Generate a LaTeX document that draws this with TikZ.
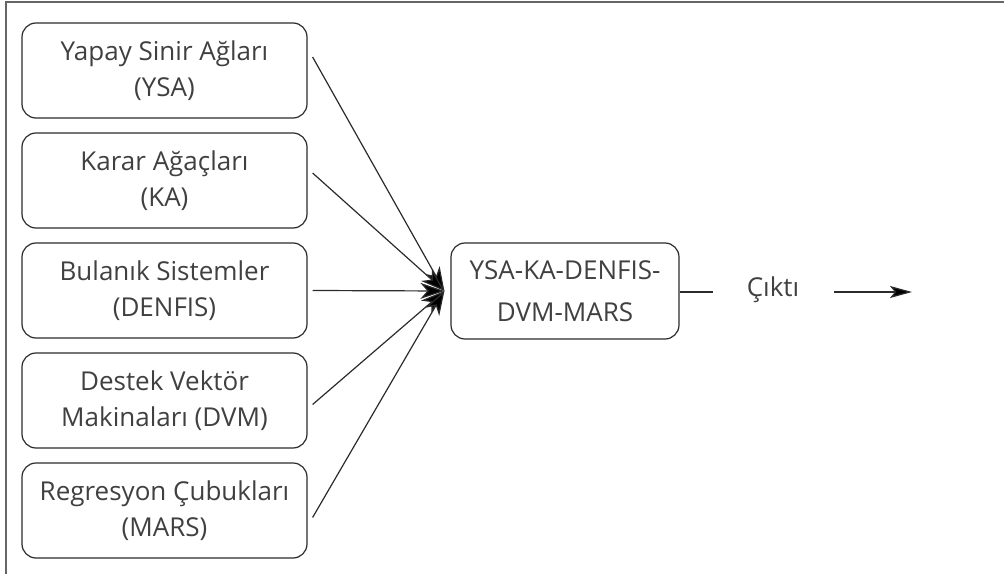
\documentclass[tikz,border=0pt]{standalone}
\usepackage{fontspec}
\setmainfont{Open Sans}
\usetikzlibrary{arrows.meta}
\definecolor{textgray}{HTML}{404040}
\definecolor{linegray}{HTML}{2B2B2B}
\tikzstyle{method} = [rectangle, rounded corners=14pt, minimum width=285pt, minimum height=95pt, align=center, draw=linegray, line width=1.2pt, text=textgray, font=\fontsize{26}{36}\selectfont]
\tikzstyle{hybridbox} = [rectangle, rounded corners=14pt, minimum width=228pt, minimum height=96pt, align=center, draw=linegray, line width=1.2pt, text=textgray, font=\fontsize{26}{42}\selectfont]
\tikzstyle{arrow} = [line width=1.2pt, draw=linegray, -{Stealth[length=24pt,width=16pt,inset=7pt,fill=black]}]

\begin{document}
\begin{tikzpicture}[x=1pt, y=1pt, node distance=110pt]
\useasboundingbox (0,0) rectangle (1004,574);

% Frame
\draw[line width=2pt, draw=gray!80!black] (6,0) -- (6,572) -- (1004,572);

% Nodes for the methods
\node (ysa) [method] at (164.5,503.5) {Yapay Sinir Ağları\\(YSA)};
\node (ka) [method, below of=ysa] {Karar Ağaçları\\(KA)};
\node (denfis) [method, below of=ka] {Bulanık Sistemler\\(DENFIS)};
\node (dvm) [method, below of=denfis] {Destek Vektör\\Makinaları (DVM)};
\node (mars) [method, below of=dvm] {Regresyon Çubukları\\(MARS)};

% Hybrid model and output
\node (hybrid) [hybridbox] at (565,283) {YSA-KA-DENFIS-\\DVM-MARS};
\node (cikti) [text=textgray, font=\fontsize{26}{30}\selectfont] at (773,284) {Çıktı};
\coordinate (out) at (912,282);

% Arrows
\draw [arrow] ([xshift=5pt,yshift=13.5pt]ysa.east) -- ([xshift=-6pt]hybrid.west);
\draw [arrow] ([xshift=5pt,yshift=7.5pt]ka.east) -- ([xshift=-6pt]hybrid.west);
\draw [arrow] ([xshift=5pt]denfis.east) -- ([xshift=-6pt]hybrid.west);
\draw [arrow] ([xshift=5pt,yshift=-4pt]dvm.east) -- ([xshift=-6pt]hybrid.west);
\draw [arrow] ([xshift=5pt,yshift=-7pt]mars.east) -- ([xshift=-6pt]hybrid.west);
\draw [line width=1.2pt, draw=linegray] (hybrid.east |- out) -- ([xshift=-60pt]out -| cikti.center);
\draw [line width=1.2pt, draw=linegray, -{Stealth[length=22pt,width=12pt,inset=5pt,fill=black]}] ([xshift=61pt]out -| cikti.center) -- (out);

\end{tikzpicture}
\end{document}
